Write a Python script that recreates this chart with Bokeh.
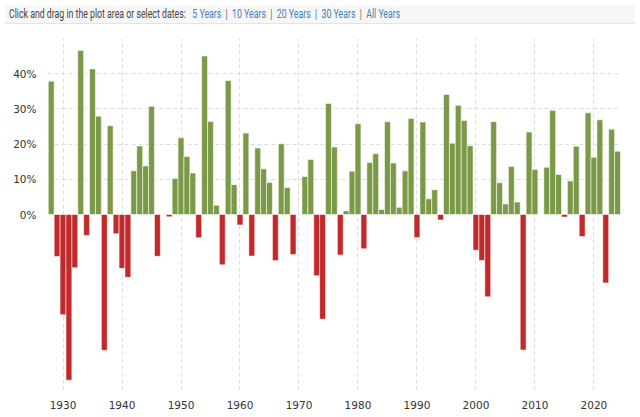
from bokeh.plotting import figure
from bokeh.models import Range1d, FixedTicker, Div, ColumnDataSource
from bokeh.layouts import column
from bokeh.embed import file_html
from bokeh.resources import INLINE

years = list(range(1928, 2025))
returns = [
    37.88, -11.91, -28.48, -47.07, -15.15, 46.59, -5.94, 41.37, 27.92, -38.59,
    25.21, -5.45, -15.29, -17.86, 12.43, 19.45, 13.80, 30.72, -11.87, 0.00,
    -0.65, 10.26, 21.78, 16.46, 11.78, -6.62, 45.02, 26.40, 2.62, -14.31,
    38.06, 8.48, -2.97, 23.13, -11.81, 18.89, 12.97, 9.06, -13.09, 20.09,
    7.66, -11.36, 0.10, 10.79, 15.63, -17.37, -29.72, 31.55, 19.15, -11.50,
    1.06, 12.31, 25.77, -9.73, 14.76, 17.27, 1.40, 26.33, 14.62, 2.03,
    12.40, 27.25, -6.56, 26.31, 4.46, 7.06, -1.54, 34.11, 20.26, 31.01,
    26.67, 19.53, -10.14, -13.04, -23.37, 26.38, 8.99, 3.00, 13.62, 3.53,
    -38.49, 23.45, 12.78, 0.00, 13.41, 29.60, 11.39, -0.73, 9.54, 19.42,
    -6.24, 28.88, 16.26, 26.89, -19.44, 24.23, 18.00,
]
y_ticks = [0, 10, 20, 30, 40]
y_grid = [10, 20, 30, 40, 50]
x_ticks = [1930, 1940, 1950, 1960, 1970, 1980, 1990, 2000, 2010, 2020]
range_links = ["5 Years", "10 Years", "20 Years", "30 Years", "All Years"]

GREEN = "#7b9a48"
RED = "#c1292b"
colors = [GREEN if r >= 0 else RED for r in returns]
src = ColumnDataSource(dict(x=years, top=returns, color=colors))

link_html = ' <span style="color:#666">&nbsp;|&nbsp;</span> '.join(
    f'<span style="color:#3d80c0">{t}</span>' for t in range_links)
header = Div(
    text=('<span style="display:inline-block;transform:scaleX(0.70);transform-origin:0 50%;'
          'white-space:nowrap">'
          '<span style="color:#444">Click and drag in the plot area or select dates:</span>'
          '&nbsp;&nbsp; ' + link_html + '</span>'),
    width=630, height=19,
    styles={"background-color": "#f7f7f7", "border-bottom": "1px solid #e4e4e4",
            "font-family": "Roboto, sans-serif", "line-height": "16px",
            "font-size": "12.5px", "padding": "1px 0 0 4px", "box-sizing": "border-box",
            "white-space": "nowrap", "overflow": "hidden"},
)

p = figure(width=630, height=382, output_backend="svg", toolbar_location=None,
           x_range=Range1d(1927.37, 2024.5), y_range=Range1d(-50, 50),
           min_border_left=47, min_border_right=10, min_border_top=9)
p.outline_line_color = None
p.background_fill_color = "white"

p.vbar(x="x", top="top", bottom=0, width=1.0, source=src,
       fill_color="color", line_color="white", line_alpha=0.55, line_width=1)

p.yaxis.ticker = FixedTicker(ticks=y_ticks)
p.yaxis.major_label_overrides = {t: f"{t}%" for t in y_ticks}
p.ygrid.ticker = FixedTicker(ticks=y_grid)
p.xaxis.ticker = FixedTicker(ticks=x_ticks)
p.xgrid.ticker = FixedTicker(ticks=x_ticks)

for ax in (p.xaxis[0], p.yaxis[0]):
    ax.axis_line_color = None
    ax.major_tick_line_color = None
    ax.minor_tick_line_color = None
    ax.major_label_text_font = "DejaVu Sans"
    ax.major_label_text_font_size = "10.5px"
    ax.major_label_text_color = "#333333"
    ax.major_label_standoff = 5

p.xaxis.major_label_standoff = 4

for g in (p.xgrid[0], p.ygrid[0]):
    g.grid_line_color = "#dcdcdc"
    g.grid_line_dash = "4 3"
    g.grid_line_width = 1

layout = column(header, p, spacing=0)
open("out.html", "w").write(file_html(layout, INLINE))
